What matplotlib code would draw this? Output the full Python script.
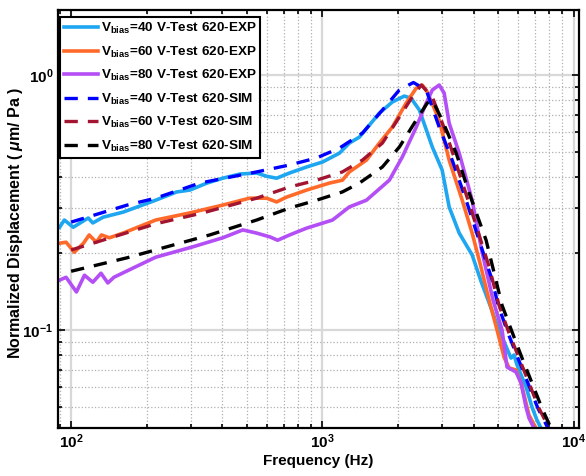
import matplotlib
matplotlib.use('Agg')
import matplotlib.pyplot as plt
from matplotlib.ticker import LogLocator, FuncFormatter, NullFormatter
import numpy as np

plt.rcParams['font.family'] = ['Liberation Sans', 'DejaVu Sans']
plt.rcParams['font.weight'] = 'bold'
plt.rcParams['mathtext.fontset'] = 'custom'
plt.rcParams['mathtext.rm'] = 'Liberation Sans:bold'
plt.rcParams['mathtext.bf'] = 'Liberation Sans:bold'
plt.rcParams['mathtext.it'] = 'Liberation Sans:italic:bold'

# measured responses (Hz, um/Pa)
f40_exp = [90, 94, 102, 110, 117, 122, 134, 161, 217, 263, 297, 347, 401, 469, 547, 599, 657, 740,
           865, 1000, 1168, 1279, 1402, 1684, 1896, 2115, 2250, 2430, 2735, 2993, 3191, 3499, 3939,
           4276, 4600, 5040, 5623, 5780, 5943, 6452, 6814, 7129, 7394]
v40_exp = [0.253, 0.270, 0.253, 0.265, 0.275, 0.263, 0.277, 0.290, 0.323, 0.348, 0.354, 0.377, 0.394,
           0.409, 0.413, 0.401, 0.394, 0.413, 0.436, 0.456, 0.494, 0.541, 0.571, 0.709, 0.784, 0.827,
           0.812, 0.729, 0.522, 0.424, 0.304, 0.240, 0.197, 0.155, 0.128, 0.100, 0.0776, 0.0798,
           0.0729, 0.0598, 0.0499, 0.0444, 0.0413]

f60_exp = [90, 95.5, 103, 112, 118, 126, 132, 142, 161, 217, 297, 401, 513, 599, 657, 719, 865, 1066,
           1200, 1279, 1496, 1684, 1896, 2153, 2361, 2495, 2612, 2913, 3191, 3597, 3939, 4250, 4600,
           4950, 5275, 5522, 5888, 6166, 6629, 7062]
v60_exp = [0.219, 0.221, 0.202, 0.219, 0.236, 0.221, 0.236, 0.230, 0.240, 0.270, 0.288, 0.309, 0.329,
           0.329, 0.318, 0.332, 0.354, 0.377, 0.387, 0.417, 0.464, 0.541, 0.625, 0.777, 0.889, 0.914,
           0.858, 0.666, 0.464, 0.323, 0.240, 0.180, 0.131, 0.100, 0.0783, 0.0710, 0.0697, 0.0620,
           0.0464, 0.0413]

f80_exp = [90, 95.5, 105, 113, 122, 131.5, 140, 148, 170, 217, 305, 401, 482, 547, 617, 663, 740, 865,
           1096, 1279, 1496, 1845, 2077, 2361, 2587, 2735, 2913, 3048, 3191, 3499, 3939, 4300, 4770,
           5181, 5421, 5888, 6166, 6452, 6629, 6936]
v80_exp = [0.157, 0.161, 0.141, 0.164, 0.154, 0.167, 0.153, 0.161, 0.172, 0.193, 0.212, 0.230, 0.247,
           0.240, 0.232, 0.225, 0.236, 0.251, 0.270, 0.304, 0.323, 0.387, 0.477, 0.625, 0.777, 0.874,
           0.914, 0.850, 0.648, 0.494, 0.323, 0.205, 0.131, 0.100, 0.0716, 0.0684, 0.0620, 0.0499,
           0.0452, 0.0413]

# simulated responses
f40_sim = [100, 167, 217, 325, 547, 740, 947, 1168, 1442, 1731, 2022, 2300, 2587, 2913, 3281, 3728,
           4198, 4731, 5000, 5470, 5990, 6560, 7190, 7880]
v40_sim = [0.265, 0.309, 0.329, 0.377, 0.417, 0.444, 0.473, 0.517, 0.592, 0.729, 0.874, 0.935, 0.874,
           0.625, 0.464, 0.323, 0.225, 0.157, 0.125, 0.0973, 0.0776, 0.062, 0.0494, 0.0413]

f60_sim = [100, 217, 334, 547, 740, 947, 1200, 1442, 1731, 2022, 2275, 2472, 2735, 3105, 3499, 3939,
           4602, 5040, 5522, 6053, 6629, 7260, 7962]
v60_sim = [0.206, 0.261, 0.288, 0.329, 0.364, 0.387, 0.417, 0.464, 0.541, 0.684, 0.820, 0.914, 0.820,
           0.592, 0.413, 0.288, 0.177, 0.125, 0.0973, 0.0776, 0.062, 0.0494, 0.0413]

f80_sim = [100, 167, 356, 547, 740, 947, 1200, 1402, 1731, 2022, 2361, 2612, 2735, 2993, 3404, 3832,
           4477, 5181, 5700, 6222, 6814, 7464, 8100]
v80_sim = [0.170, 0.192, 0.236, 0.270, 0.301, 0.323, 0.348, 0.377, 0.436, 0.522, 0.666, 0.777, 0.798,
           0.666, 0.494, 0.345, 0.225, 0.125, 0.0973, 0.0776, 0.062, 0.0494, 0.0413]

labels = [r'V$_{\mathbf{bias}}$=40 V-Test 620-EXP', r'V$_{\mathbf{bias}}$=60 V-Test 620-EXP',
          r'V$_{\mathbf{bias}}$=80 V-Test 620-EXP', r'V$_{\mathbf{bias}}$=40 V-Test 620-SIM',
          r'V$_{\mathbf{bias}}$=60 V-Test 620-SIM', r'V$_{\mathbf{bias}}$=80 V-Test 620-SIM']

fig = plt.figure(figsize=(5.86, 4.76), dpi=100)
ax = fig.add_axes([0.099, 0.101, 0.889, 0.878])

ax.plot(f40_exp, v40_exp, color='#1ea7f0', lw=2.6, label=labels[0])
ax.plot(f60_exp, v60_exp, color='#ff6a2a', lw=2.6, label=labels[1])
ax.plot(f80_exp, v80_exp, color='#b44ff5', lw=2.6, label=labels[2])
ax.plot(f40_sim, v40_sim, color='#0000ff', lw=2.4, ls=(0, (4, 3)), label=labels[3])
ax.plot(f60_sim, v60_sim, color='#a2142f', lw=2.4, ls=(0, (4, 3)), label=labels[4])
ax.plot(f80_sim, v80_sim, color='black', lw=2.4, ls=(0, (4, 3)), label=labels[5])

ax.set_xscale('log')
ax.set_yscale('log')
ax.set_xlim(88.7, 10480)
ax.set_ylim(0.0413, 1.80)

def sci(v, pos):
    e = int(round(np.log10(v)))
    return r'$\mathbf{10^{%d}}$' % e

for axis in (ax.xaxis, ax.yaxis):
    axis.set_major_locator(LogLocator(base=10))
    axis.set_minor_locator(LogLocator(base=10, subs=np.arange(2, 10)))
    axis.set_major_formatter(FuncFormatter(sci))
    axis.set_minor_formatter(NullFormatter())

ax.tick_params(which='both', direction='in', top=True, right=True, labelsize=11, width=1.2)
ax.tick_params(which='major', length=5)
ax.tick_params(which='minor', length=3)
ax.grid(which='major', color='#d8d8d8', lw=1.6, ls='-')
ax.grid(which='minor', color='#b0b0b0', lw=0.9, ls=':')
ax.set_axisbelow(True)
for s in ax.spines.values():
    s.set_linewidth(1.6)

ax.set_xlabel('Frequency (Hz)', fontsize=11, fontweight='bold', labelpad=2)
ax.set_ylabel(r'Normalized Displacement ( $\mathit{\mu}$m/ Pa )', fontsize=11.5, fontweight='bold')
ax.yaxis.set_label_coords(-0.063, 0.49)

leg = ax.legend(loc='upper left', bbox_to_anchor=(0.004, 0.983), borderaxespad=0, fontsize=9.7,
                handlelength=2.5, handletextpad=0.2, labelspacing=0.62, borderpad=0.3,
                fancybox=False, framealpha=1, edgecolor='black')
leg.get_frame().set_linewidth(1.5)

fig.savefig('out.png', dpi=100)
